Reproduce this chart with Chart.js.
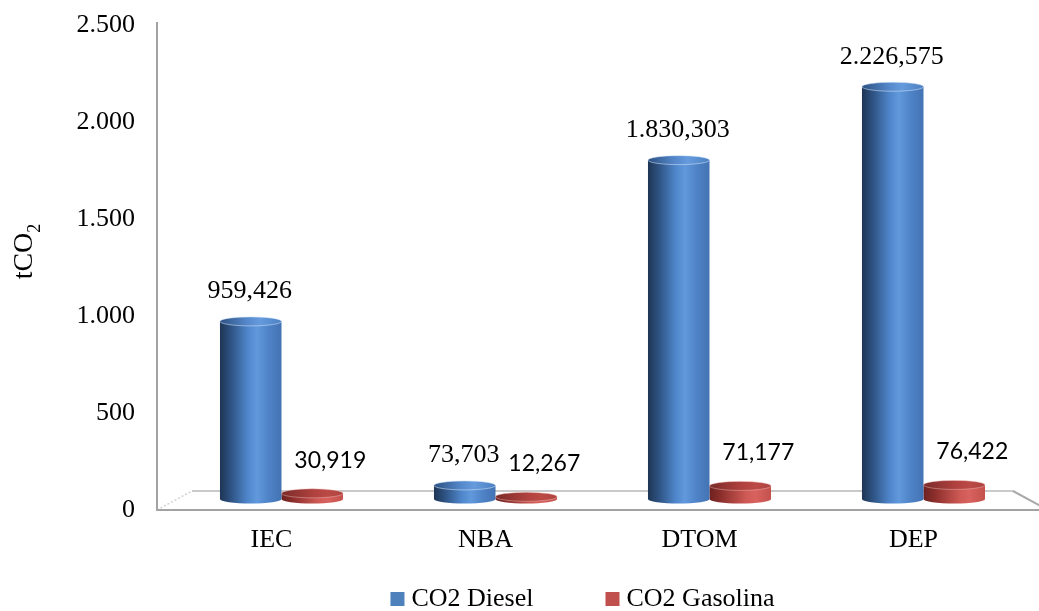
<!DOCTYPE html>
<html>
<head>
<meta charset="utf-8">
<script src="https://cdn.jsdelivr.net/npm/chart.js@4.4.1/dist/chart.umd.min.js"></script>
<style>
  html, body { margin: 0; padding: 0; background: #ffffff; }
  #wrap { width: 1039px; height: 611px; position: relative; }
</style>
</head>
<body>
<div id="wrap"><canvas id="chart"></canvas></div>
<script>
// ---- data ----
const categories = ['IEC', 'NBA', 'DTOM', 'DEP'];
const seriesNames = ['CO2 Diesel', 'CO2 Gasolina'];
const dieselValues = [959.426, 73.703, 1830.303, 2226.575];
const gasolinaValues = [30.919, 12.267, 71.177, 76.422];
const yTickValues = [0, 500, 1000, 1500, 2000, 2500];
const yTitle = 'tCO';
const yTitleSub = '2';

// ---- look ----
const SERIF = '"Liberation Serif", "Times New Roman", serif';
const SANS = 'Lato, "Open Sans", sans-serif';
const CAT_PCT = 0.575;      // share of each category taken by the bar pair
const DEPTH_X = 17.5;       // half depth of the floor, horizontal
const DEPTH_Y = 19;         // full depth of the floor, vertical
const CAP_RY = 4.5;         // vertical radius of the cylinder ends

const styles = [
  {
    body: [[0, '#1e3555'], [0.18, '#2e5383'], [0.45, '#4f86cb'], [0.6, '#6199dc'], [0.8, '#4e82c6'], [1, '#4373b3']],
    cap:  [[0, '#2c5182'], [0.45, '#5689cc'], [0.65, '#659bdc'], [1, '#4c80c2']],
    rim: 'rgba(210,228,250,0.55)',
    swatch: '#4f81bd',
    labelFont: '26px ' + SERIF, labelDx: -1, labelDy: -30
  },
  {
    body: [[0, '#6d2220'], [0.2, '#8e302d'], [0.6, '#cf5a55'], [0.75, '#d8625d'], [1, '#c4514d']],
    cap:  [[0, '#7a2b29'], [0.55, '#b2423f'], [0.75, '#bb4a46'], [1, '#ae4340']],
    rim: 'rgba(240,190,188,0.45)',
    swatch: '#c0504d',
    labelFont: '23px ' + SANS, labelDx: 18, labelDy: -33
  }
];

// 2.226,575 style numbers
function groupThousands(s) { return s.replace(/\B(?=(\d{3})+(?!\d))/g, '.'); }
function fmtValue(v) {
  const parts = v.toFixed(3).split('.');
  return groupThousands(parts[0]) + ',' + parts[1];
}
function fmtTick(v) { return groupThousands(String(v)); }

function makeGradient(ctx, left, width, stops) {
  const g = ctx.createLinearGradient(left, 0, left + width, 0);
  stops.forEach(([o, c]) => g.addColorStop(o, c));
  return g;
}

// horizontal span of one bar, from the category scale
function barSpan(chart, dsIndex, dataIndex) {
  const xs = chart.scales.x;
  const slot = xs.width / categories.length * CAT_PCT;
  const w = slot / 2;
  const left = xs.getPixelForTick(dataIndex) - slot / 2 + dsIndex * w;
  return { left, w };
}

function bodyFill(dsIndex) {
  return (c) => {
    const chart = c.chart;
    if (!chart.chartArea || c.dataIndex === undefined) return styles[dsIndex].swatch;
    const { left, w } = barSpan(chart, dsIndex, c.dataIndex);
    return makeGradient(chart.ctx, left, w, styles[dsIndex].body);
  };
}

// floor, walls and the front axis lines
const scenePlugin = {
  id: 'scene',
  beforeDatasetsDraw(chart) {
    const { ctx, chartArea: a } = chart;
    const fl = a.left - DEPTH_X, fr = a.right + DEPTH_X;
    const bl = a.left + DEPTH_X, br = a.right - DEPTH_X;
    const fy = a.bottom, by = a.bottom - DEPTH_Y;
    ctx.save();
    ctx.lineCap = 'butt';
    // back edge of the floor
    ctx.strokeStyle = '#c9c9c9';
    ctx.lineWidth = 2;
    ctx.beginPath(); ctx.moveTo(bl, by); ctx.lineTo(br, by); ctx.stroke();
    // right edge of the floor
    ctx.strokeStyle = '#a9a9a9';
    ctx.beginPath(); ctx.moveTo(br, by); ctx.lineTo(fr, fy); ctx.stroke();
    // left edge of the floor (dotted)
    ctx.strokeStyle = '#d2d2d2';
    ctx.lineWidth = 1.5;
    ctx.setLineDash([2, 2]);
    ctx.beginPath(); ctx.moveTo(fl, fy); ctx.lineTo(bl, by); ctx.stroke();
    ctx.setLineDash([]);
    // front axis lines
    ctx.strokeStyle = '#a3a3a3';
    ctx.lineWidth = 2;
    ctx.beginPath(); ctx.moveTo(fl, a.top - 3); ctx.lineTo(fl, fy); ctx.lineTo(fr, fy); ctx.stroke();
    ctx.restore();
  },
  afterDatasetsDraw(chart) {
    const ctx = chart.ctx;
    chart.data.datasets.forEach((ds, di) => {
      const meta = chart.getDatasetMeta(di);
      const st = styles[di];
      meta.data.forEach((el, i) => {
        const { x, y, base, width } = el.getProps(['x', 'y', 'base', 'width'], true);
        const rx = width / 2;
        const left = x - rx;
        ctx.save();
        // lower rim of the cylinder
        ctx.beginPath();
        ctx.ellipse(x, base, rx, CAP_RY, 0, 0, Math.PI);
        ctx.fillStyle = makeGradient(ctx, left, width, st.body);
        ctx.fill();
        // top face
        ctx.beginPath();
        ctx.ellipse(x, y, rx, CAP_RY, 0, 0, Math.PI * 2);
        ctx.fillStyle = makeGradient(ctx, left, width, st.cap);
        ctx.fill();
        ctx.strokeStyle = st.rim;
        ctx.lineWidth = 1;
        ctx.stroke();
        ctx.restore();

        // value label
        ctx.save();
        ctx.font = st.labelFont;
        ctx.fillStyle = '#000000';
        ctx.textAlign = 'center';
        ctx.textBaseline = 'middle';
        ctx.fillText(fmtValue(ds.data[i]), x + st.labelDx, y + st.labelDy);
        ctx.restore();
      });
    });
  },
  afterDraw(chart) {
    const { ctx, chartArea: a } = chart;
    // rotated axis title with a subscript
    ctx.save();
    ctx.translate(32, (a.top + a.bottom) / 2 - 16);
    ctx.rotate(-Math.PI / 2);
    ctx.fillStyle = '#000000';
    ctx.textBaseline = 'alphabetic';
    ctx.font = '28px ' + SERIF;
    const mainW = ctx.measureText(yTitle).width;
    ctx.font = '18px ' + SERIF;
    const subW = ctx.measureText(yTitleSub).width;
    const start = -(mainW + subW) / 2;
    ctx.font = '28px ' + SERIF;
    ctx.fillText(yTitle, start, 0);
    ctx.font = '18px ' + SERIF;
    ctx.fillText(yTitleSub, start + mainW, 8);
    ctx.restore();

    // legend
    ctx.save();
    ctx.font = '26px ' + SERIF;
    ctx.textBaseline = 'middle';
    ctx.textAlign = 'left';
    const box = 14, gap = 7, itemGap = 72;
    const widths = seriesNames.map(n => ctx.measureText(n).width);
    const total = widths.reduce((s, w) => s + box + gap + w, 0) + itemGap * (seriesNames.length - 1);
    let x = (a.left + a.right) / 2 - 20 - total / 2;
    const cy = chart.height - 12;
    seriesNames.forEach((n, k) => {
      ctx.fillStyle = styles[k].swatch;
      ctx.fillRect(x, cy - box / 2, box, box);
      ctx.fillStyle = '#000000';
      ctx.fillText(n, x + box + gap, cy);
      x += box + gap + widths[k] + itemGap;
    });
    ctx.restore();
  }
};

new Chart(document.getElementById('chart'), {
  type: 'bar',
  data: {
    labels: categories,
    datasets: [
      { label: seriesNames[0], data: dieselValues, backgroundColor: bodyFill(0),
        borderWidth: 0, categoryPercentage: CAT_PCT, barPercentage: 1, yAxisID: 'y' },
      { label: seriesNames[1], data: gasolinaValues, backgroundColor: bodyFill(1),
        borderWidth: 0, categoryPercentage: CAT_PCT, barPercentage: 1, yAxisID: 'y' }
    ]
  },
  options: {
    responsive: true,
    maintainAspectRatio: false,
    animation: false,
    events: [],
    layout: { padding: { top: 25, right: 8.5, bottom: 50, left: 0 } },
    plugins: { legend: { display: false }, tooltip: { enabled: false } },
    scales: {
      x: {
        type: 'category',
        offset: true,
        grid: { display: false, drawTicks: false },
        border: { display: false },
        ticks: {
          color: '#000000',
          font: { family: SERIF, size: 26, lineHeight: 1.2 },
          padding: 14.4,
          labelOffset: -10,
          maxRotation: 0
        },
        afterFit(s) { s.height = 51; }
      },
      // front face scale: carries the printed tick labels
      yFront: {
        type: 'linear',
        position: 'left',
        min: 0,
        max: 2500,
        grid: { display: false, drawTicks: false },
        border: { display: false },
        afterBuildTicks(s) { s.ticks = yTickValues.map(v => ({ value: v })); },
        ticks: {
          color: '#000000',
          font: { family: SERIF, size: 26 },
          padding: 39.5,
          callback: (v) => fmtTick(v)
        },
        afterFit(s) {
          s.width = 174.5;
          s.paddingTop = 0;
          s.paddingBottom = 0;
        }
      },
      // mid-depth scale the cylinders stand on: the floor line sits above the
      // front baseline and heights shrink slightly with depth
      y: {
        type: 'linear',
        display: false,
        min: -59,
        max: 2560
      }
    }
  },
  plugins: [scenePlugin]
});
</script>
</body>
</html>
